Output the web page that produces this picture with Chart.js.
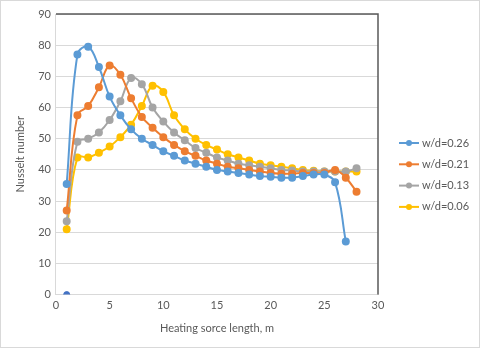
<!DOCTYPE html>
<html>
<head>
<meta charset="utf-8">
<script src="https://cdn.jsdelivr.net/npm/chart.js@4/dist/chart.umd.min.js"></script>
<style>
  html, body { margin: 0; padding: 0; background: #fff; }
  #wrap { position: relative; width: 478px; height: 346px; border: 1px solid #d9d9d9; }
</style>
</head>
<body>
<div id="wrap"><canvas id="c" width="478" height="346"></canvas></div>
<script>
// ── data ──
var lengths = [1,2,3,4,5,6,7,8,9,10,11,12,13,14,15,16,17,18,19,20,21,22,23,24,25,26,27,28];
var names = ["w/d=0.26", "w/d=0.21", "w/d=0.13", "w/d=0.06"];
var colors = ["#5B9BD5", "#ED7D31", "#A5A5A5", "#FFC000"];

var nu026 = [35.5,77,79.5,73,63.5,57.5,53,50,48,46,44.5,43,42,41,40,39.5,39,38.5,38,37.8,37.5,37.5,38,38.5,38.5,36,17];
var nu021 = [27,57.5,60.5,66.5,73.5,70.5,63,57,53.5,50.5,48,46,44.5,43,42,41,40.5,40,39.5,39,38.8,38.8,39,39,39,40,37.5,33];
var nu013 = [23.5,49,50,52,56,62,69.5,67.5,60,55.5,52,49.5,47,45.5,44,43,42,41.5,41,40.5,40,39.8,39.5,39.5,39.5,39.5,39.5,40.5];
var nu006 = [21,44,44,45.5,47.5,50.5,54.5,60.5,67,65,57.5,53,50,48,46.5,45,44,43,42,41.5,41,40.5,40,39.7,39.5,39.5,39.5,39.5];
var series = [nu026, nu021, nu013, nu006];

// stray point in the original sheet (no legend entry)
var strayX = [1];
var strayY = [0];

var xTicks = [0, 30, 5];   // min, max, step
var yTicks = [0, 90, 10];

function toPoints(xs, ys) {
  return ys.map(function(v, i) { return { x: xs[i], y: v }; });
}

var datasets = series.map(function(s, i) {
  return {
    label: names[i],
    data: toPoints(lengths, s),
    borderColor: colors[i],
    backgroundColor: colors[i],
    borderWidth: 2,
    pointRadius: 3,
    pointHoverRadius: 3,
    tension: 0.4
  };
});
datasets.push({
  label: "",
  data: toPoints(strayX, strayY),
  borderColor: "#4472C4",
  backgroundColor: "#4472C4",
  showLine: false,
  pointRadius: 3
});

// ── legend + plot frame ──
var framePlugin = {
  id: "frame",
  afterDraw: function(chart) {
    var ctx = chart.ctx, a = chart.chartArea;
    ctx.save();
    ctx.strokeStyle = "#595959";
    ctx.lineWidth = 1.5;
    ctx.beginPath();
    ctx.moveTo(a.left, a.top);
    ctx.lineTo(a.right, a.top);
    ctx.lineTo(a.right, a.bottom);
    ctx.stroke();

    ctx.font = "11px Lato, 'Liberation Sans', sans-serif";
    ctx.textBaseline = "middle";
    for (var i = 0; i < names.length; i++) {
      var y = 142 + i * 21.3;
      ctx.strokeStyle = colors[i];
      ctx.lineWidth = 2;
      ctx.beginPath();
      ctx.moveTo(398, y);
      ctx.lineTo(418, y);
      ctx.stroke();
      ctx.fillStyle = colors[i];
      ctx.beginPath();
      ctx.arc(408, y, 3, 0, Math.PI * 2);
      ctx.fill();
      ctx.fillStyle = "#595959";
      ctx.fillText(names[i], 421, y);
    }
    ctx.restore();
  }
};

new Chart(document.getElementById("c"), {
  type: "line",
  data: { datasets: datasets },
  options: {
    responsive: false,
    animation: false,
    layout: { padding: { top: 13, right: 101, left: 9, bottom: 8 } },
    plugins: { legend: { display: false }, tooltip: { enabled: false } },
    scales: {
      x: {
        type: "linear",
        min: xTicks[0], max: xTicks[1],
        ticks: { stepSize: xTicks[2], color: "#595959", font: { size: 11, family: "Lato, 'Liberation Sans', sans-serif" }, padding: 4 },
        grid: { display: false, drawTicks: false },
        border: { color: "#d9d9d9" },
        title: { display: true, text: "Heating sorce length, m", color: "#595959", font: { size: 11, family: "Lato, 'Liberation Sans', sans-serif" }, padding: { top: 6 } }
      },
      y: {
        min: yTicks[0], max: yTicks[1],
        ticks: { stepSize: yTicks[2], color: "#595959", font: { size: 11, family: "Lato, 'Liberation Sans', sans-serif" }, padding: 5 },
        grid: { color: "#d9d9d9", drawTicks: false },
        border: { color: "#d9d9d9" },
        title: { display: true, text: "Nusselt number", color: "#595959", font: { size: 11, family: "Lato, 'Liberation Sans', sans-serif" }, padding: { top: 4, bottom: 6 } }
      }
    }
  },
  plugins: [framePlugin]
});
</script>
</body>
</html>
